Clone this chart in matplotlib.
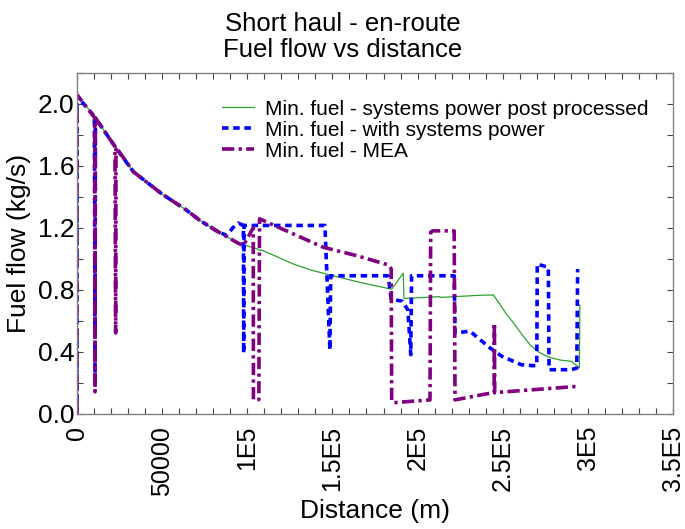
import matplotlib
matplotlib.use('Agg')
import matplotlib.pyplot as plt
from matplotlib.ticker import MultipleLocator

plt.rcParams['font.family'] = ['Liberation Sans', 'DejaVu Sans']

title_lines = ['Short haul - en-route', 'Fuel flow vs distance']
x_label = 'Distance (m)'
y_label = 'Fuel flow (kg/s)'
x_ticks = [0, 50000, 100000, 150000, 200000, 250000, 300000, 350000]
x_tick_labels = ['0', '50000', '1E5', '1.5E5', '2E5', '2.5E5', '3E5', '3.5E5']
y_ticks = [0.0, 0.4, 0.8, 1.2, 1.6, 2.0]
y_tick_labels = ['0.0', '0.4', '0.8', '1.2', '1.6', '2.0']
series_names = ['Min. fuel - systems power post processed',
                'Min. fuel - with systems power',
                'Min. fuel - MEA']

# Min. fuel - systems power post processed
post_x = [0, 10200, 22300, 33100, 49700, 64400, 72200, 82000, 94700, 105500,
          107500, 108000, 118000, 127000, 138000, 150500, 166200, 184800,
          191600, 192000, 213000, 213300, 236600, 244500, 248400, 252000,
          256200, 262000, 266000, 270000, 274000, 277700, 284000, 290500,
          295000, 295300]
post_y = [2.06, 1.92, 1.725, 1.562, 1.42, 1.313, 1.247, 1.18, 1.10, 1.065,
          1.052, 1.058, 1.01, 0.966, 0.925, 0.89, 0.847, 0.803,
          0.907, 0.743, 0.755, 0.75, 0.764, 0.766, 0.705, 0.645,
          0.587, 0.50, 0.445, 0.405, 0.38, 0.362, 0.345, 0.337,
          0.294, 0.70]

# Min. fuel - with systems power
sys_x = [0, 0, 10200, 10600, 10800, 22300, 33100, 49700, 64400, 72200,
         82000, 87900, 91500, 94700, 97700, 97900, 98100, 145600, 148500,
         149000, 182700, 184500, 191000, 194300, 196000, 196500, 221500,
         222000, 230800, 236600, 242500, 249400, 261000, 268000, 270000,
         270300, 272000, 276800, 277200, 290000, 293500, 294000]
sys_y = [0.0, 2.05, 1.92, 0.26, 1.91, 1.725, 1.562, 1.42, 1.313, 1.247,
         1.18, 1.15, 1.20, 1.23, 1.215, 0.39, 1.215, 1.215, 0.41,
         0.89, 0.89, 0.74, 0.725, 0.67, 0.38, 0.89, 0.89,
         0.52, 0.532, 0.478, 0.424, 0.37, 0.315, 0.309, 0.31,
         0.966, 0.96, 0.944, 0.283, 0.283, 0.293, 0.933]

# Min. fuel - MEA
mea_x = [0, 0, 10400, 10600, 10800, 22300, 22700, 22900, 33100, 49700,
         64400, 72200, 82000, 94700, 97700, 103500, 103600, 106800, 107200,
         111400, 144600, 164200, 182800, 184500, 184800, 186000, 207300,
         207700, 209000, 221500, 222000, 242500, 245000, 245100, 245300,
         293400]
mea_y = [0.0, 2.06, 1.91, 0.14, 1.91, 1.725, 0.52, 1.72, 1.562, 1.42,
         1.313, 1.247, 1.18, 1.10, 1.085, 1.20, 0.09, 0.09, 1.258,
         1.237, 1.074, 1.02, 0.96, 0.935, 0.08, 0.07, 0.088,
         1.172, 1.18, 1.18, 0.088, 0.131, 0.135, 0.585, 0.135,
         0.175]

fig = plt.figure(figsize=(6.85, 5.29), dpi=100)
ax = fig.add_axes([77 / 685, 1 - 413.5 / 529, 596 / 685, 340.5 / 529])

ax.plot(post_x, post_y, color='#2ea02e', lw=0.9, label=series_names[0])
ax.plot(sys_x, sys_y, color='#0000ff', lw=2.6, linestyle=(0, (1.8, 1.3)),
        label=series_names[1])
ax.plot(mea_x, mea_y, color='#800080', lw=2.6,
        linestyle=(0, (3.4, 1.2, 0.9, 1.2)), label=series_names[2])

ax.set_xlim(0, 350000)
ax.set_ylim(0, 2.2)
ax.set_xticks(x_ticks)
ax.set_xticklabels(x_tick_labels, rotation=90)
ax.set_yticks(y_ticks)
ax.set_yticklabels(y_tick_labels)
ax.xaxis.set_minor_locator(MultipleLocator(10000))
ax.yaxis.set_minor_locator(MultipleLocator(0.2))
ax.tick_params(which='both', direction='in', top=True, right=True,
               length=4, width=0.8, color='#444444')
ax.tick_params(axis='x', labelsize=18, pad=9)
ax.tick_params(axis='y', labelsize=19, pad=2)
for s in ax.spines.values():
    s.set_color('#808080')
    s.set_linewidth(1.0)

ax.set_xlabel(x_label, fontsize=19, labelpad=2)
ax.set_ylabel(y_label, fontsize=19, labelpad=5)
fig.text(0.5, 1 - 24 / 529, title_lines[0], ha='center', va='center', fontsize=18.5)
fig.text(0.5, 1 - 50 / 529, title_lines[1], ha='center', va='center', fontsize=18.5)

ax.legend(loc='upper left', bbox_to_anchor=(0.243, 0.922), frameon=False,
          fontsize=15, handlelength=1.55, handletextpad=0.5,
          labelspacing=0.1, borderpad=0, borderaxespad=0)

fig.savefig('out.png', dpi=100)
